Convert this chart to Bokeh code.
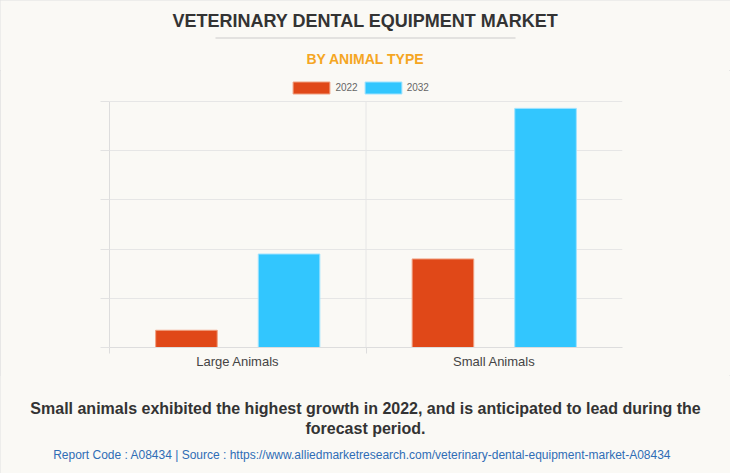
from bokeh.plotting import figure
from bokeh.layouts import column
from bokeh.models import (Range1d, FixedTicker, Label, Legend, LegendItem, BoxAnnotation, ColumnDataSource)
from bokeh.transform import dodge
from bokeh.embed import file_html
from bokeh.resources import INLINE

categories = ["Large Animals", "Small Animals"]
years = ["2022", "2032"]
values_2022 = [0.35, 1.80]
values_2032 = [1.90, 4.86]
y_ticks = [0, 1, 2, 3, 4, 5]
colors = ["#E04818", "#32C6FE"]
outline_colors = ["#F0A080", "#9FE3FF"]

BG = "#FAF9F5"
GRID = "#E6E6E6"
W = 730
TOP_H = 70          # header strip: canvas y 0..70
MAIN_H = 305        # chart strip: canvas y 70..375
BOT_H = 473 - TOP_H - MAIN_H
FL, FR = 109, 622   # plot area left / right
FTOP, GTOP, FB = 75, 101, 347   # frame top, top gridline, axis line (canvas y)


def blank(height, y0):
    f = figure(width=W, height=height, output_backend="svg", toolbar_location=None,
               x_range=Range1d(0, W), y_range=Range1d(y0 + height, y0),
               x_axis_type=None, y_axis_type=None, min_border=0, frame_align=False)
    f.background_fill_color = BG
    f.border_fill_color = BG
    f.outline_line_color = None
    f.grid.visible = False
    return f


def lab(f, text, cx, cy, size, color, style="normal"):
    f.add_layout(Label(x=cx, y=cy, text=text, text_align="center", text_baseline="middle",
                       text_font="Liberation Sans", text_font_size=size,
                       text_color=color, text_font_style=style))

# ---------- header ----------
top = blank(TOP_H, 0)
lab(top, "VETERINARY DENTAL EQUIPMENT MARKET", 365, 20, "18px", "#333333", "bold")
top.add_layout(BoxAnnotation(left=215, right=515, top=37, bottom=38,
                             fill_color="#CCCCCC", fill_alpha=1, line_color=None))
lab(top, "BY ANIMAL TYPE", 365, 58, "14px", "#F5A623", "bold")

# ---------- chart ----------
ymax = y_ticks[-1]
y_end = ymax * (FB - FTOP) / (FB - GTOP)   # headroom above the top gridline for the legend
p = figure(width=W, height=MAIN_H, output_backend="svg", toolbar_location=None,
           x_range=Range1d(0, len(categories)), y_range=Range1d(0, y_end), frame_align=False)
p.min_border_left = FL
p.min_border_right = W - FR
p.min_border_top = FTOP - TOP_H
p.min_border_bottom = TOP_H + MAIN_H - FB
p.background_fill_color = BG
p.border_fill_color = BG
p.outline_line_color = None

# vertical category separators (grid), bounded to the value axis extent
sep_x = list(range(1, len(categories)))
p.segment(x0=sep_x, y0=[0] * len(sep_x), x1=sep_x, y1=[ymax] * len(sep_x),
          line_color=GRID, line_width=1, level="underlay")

centers = [i + 0.5 for i in range(len(categories))]
src = ColumnDataSource(dict(c=centers, v22=values_2022, v32=values_2032))
r1 = p.vbar(x=dodge("c", -0.2), top="v22", width=0.24, source=src,
            fill_color=colors[0], line_color=outline_colors[0], line_width=1)
r2 = p.vbar(x=dodge("c", 0.2), top="v32", width=0.24, source=src,
            fill_color=colors[1], line_color=outline_colors[1], line_width=1)

# legend glyphs are drawn at 80% of the glyph box
gw, gh = 46, 15
legend = Legend(items=[LegendItem(label=years[0], renderers=[r1]),
                       LegendItem(label=years[1], renderers=[r2])],
                orientation="horizontal", location=(293 - 4.6 - FL, FB - 94.5),
                glyph_width=gw, glyph_height=gh, label_height=gh,
                label_standoff=1, spacing=2, padding=0, margin=0,
                border_line_color=None, background_fill_alpha=0,
                label_text_font="Liberation Sans", label_text_font_size="10px",
                label_text_color="#666666")
p.add_layout(legend, "center")

xa = p.xaxis[0]
xa.ticker = FixedTicker(ticks=centers, minor_ticks=list(range(len(categories))))
xa.major_label_overrides = {c: n for c, n in zip(centers, categories)}
xa.major_tick_line_color = None
xa.major_tick_out = 0
xa.minor_tick_in = 0
xa.minor_tick_out = 6
xa.minor_tick_line_color = "#DDDDDD"
xa.axis_line_color = "#DDDDDD"
xa.major_label_text_font = "Liberation Sans"
xa.major_label_text_font_size = "13px"
xa.major_label_text_color = "#444444"
xa.major_label_standoff = 0

ya = p.yaxis[0]
ya.ticker = FixedTicker(ticks=y_ticks)
ya.bounds = (0, ymax)
ya.major_label_text_color = None
ya.major_label_text_font_size = "1px"
ya.major_tick_out = 9
ya.major_tick_in = 0
ya.major_tick_line_color = "#E2E2E2"
ya.minor_tick_line_color = None
ya.axis_line_color = "#DDDDDD"

p.ygrid.ticker = FixedTicker(ticks=y_ticks)
p.ygrid.grid_line_color = GRID
p.xgrid.visible = False

# ---------- footer ----------
bot = blank(BOT_H, TOP_H + MAIN_H)
lab(bot, "Small animals exhibited the highest growth in 2022, and is anticipated to lead during the",
    365, 408, "16px", "#333333", "bold")
lab(bot, "forecast period.", 365, 428, "16px", "#333333", "bold")
lab(bot, "Report Code : A08434  |  Source : https://www.alliedmarketresearch.com/veterinary-dental-equipment-market-A08434",
    365, 454, "12px", "#2F6DB5")

layout = column(top, p, bot, spacing=0,
                styles={"background-color": BG, "outline": "1px solid #E0E0E0",
                        "outline-offset": "-1px"})
open("out.html", "w").write(file_html(layout, INLINE))
